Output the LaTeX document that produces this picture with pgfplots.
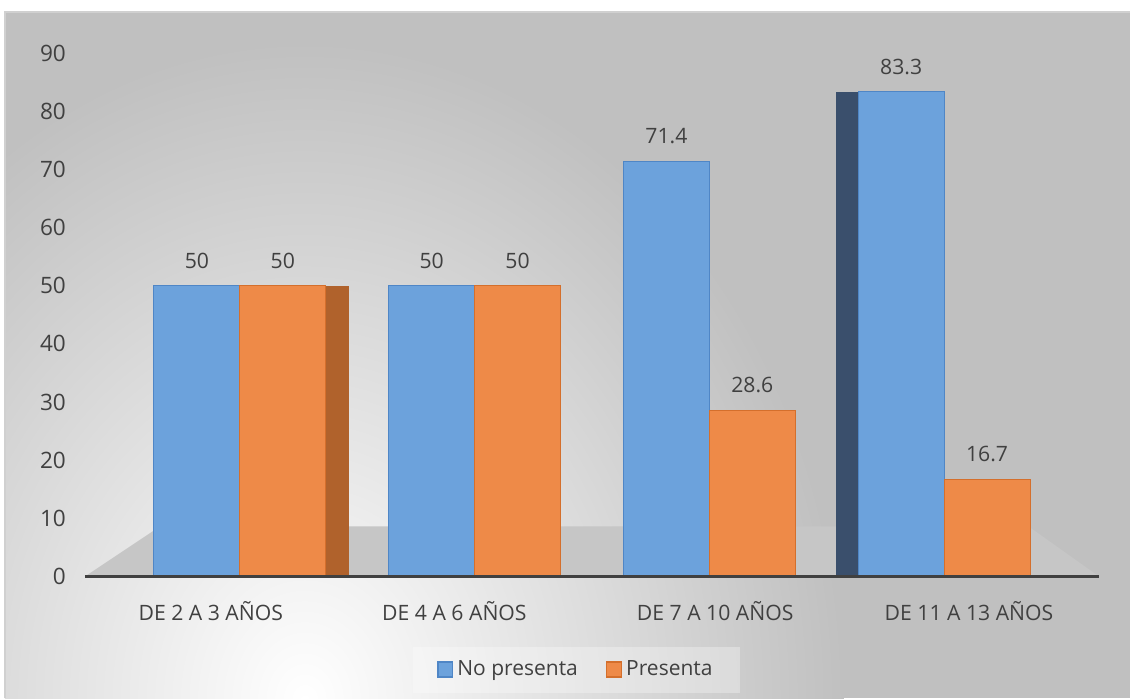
\documentclass[border=0pt]{standalone}
\usepackage{pgfplots}
\pgfplotsset{compat=1.18}
\usepackage{fontspec}
\setmainfont{Open Sans}
\definecolor{txt}{HTML}{404040}
\definecolor{bgGray}{HTML}{C0C0C0}
\definecolor{frameGray}{HTML}{D0D0D0}
\definecolor{barBlue}{HTML}{6CA2DC}
\definecolor{edgeBlue}{HTML}{4F86C6}
\definecolor{sideBlue}{HTML}{3A4F6C}
\definecolor{barOrange}{HTML}{EE8A48}
\definecolor{edgeOrange}{HTML}{D46F2C}
\definecolor{sideOrange}{HTML}{B0622C}
\definecolor{floorGray}{HTML}{C6C6C6}

\begin{document}
\begin{tikzpicture}
% page area and chart frame (origin = lower-left corner of the plot area)
\fill[white] (-42.5pt,-61pt) rectangle (523pt,288.5pt);
\begin{scope}
  \clip (-40pt,-61pt) rectangle (523pt,282.5pt);
  \fill[bgGray] (-40pt,-61pt) rectangle (523pt,282.5pt);
  \shade[inner color=white, outer color=bgGray] (110pt,-62pt) ellipse (270pt and 330pt);
\end{scope}
\draw[frameGray, line width=1pt] (-40pt,-61pt) -- (-40pt,282.5pt) -- (523pt,282.5pt);

\begin{axis}[
  at={(0,0)}, anchor=south west,
  scale only axis,
  width=507.5pt, height=262pt,
  ybar=0pt, bar width=43pt,
  xmin=-0.66, xmax=3.66,
  ymin=0, ymax=90,
  ytick={0,10,...,90},
  xtick={-0.124,0.914,2.025,3.106},
  xticklabels={DE 2 A 3 AÑOS, DE 4 A 6 AÑOS, DE 7 A 10 AÑOS, DE 11 A 13 AÑOS},
  major tick length=0pt,
  axis line style={draw=none},
  tick label style={font=\fontsize{10.6pt}{12pt}\selectfont, text=txt},
  yticklabel style={xshift=-6pt, font=\fontsize{11.3pt}{13pt}\selectfont},
  xticklabel style={yshift=-9pt},
  /pgf/number format/assume math mode=true,
  legend style={at={(0.485,-0.178)}, anchor=center, legend columns=2,
    draw=none, fill=white, fill opacity=0.3, text opacity=1,
    font=\fontsize{10.5pt}{12pt}\selectfont, text=txt,
    inner xsep=12pt, inner ysep=5pt,
    /tikz/every even column/.append style={column sep=12pt}},
  legend image code/.code={\draw[#1, fill opacity=1, line width=0.8pt] (0pt,-3.7pt) rectangle (7.4pt,3.7pt);},
  clip=false,
]
% floor under the bars
\fill[floorGray] (axis cs:-0.66,0) -- (axis cs:3.66,0) -- (axis cs:3.36,8.6) -- (axis cs:-0.34,8.6) -- cycle;

% shaded side faces of the bars seen at an angle
\addplot[forget plot, fill=sideOrange, draw=none, bar width=11.5pt, bar shift=48.7pt] coordinates {(0,50)};
\addplot[forget plot, fill=sideBlue, draw=none, bar width=11pt, bar shift=-48.5pt] coordinates {(3,83.3)};

\addplot[fill=barBlue, draw=edgeBlue, line width=0.5pt,
  nodes near coords, every node near coord/.append style={font=\fontsize{10.6pt}{12pt}\selectfont, text=txt, yshift=5pt}]
  coordinates {(0,50) (1,50) (2,71.4) (3,83.3)};
\addplot[fill=barOrange, draw=edgeOrange, line width=0.5pt,
  nodes near coords, every node near coord/.append style={font=\fontsize{10.6pt}{12pt}\selectfont, text=txt, yshift=5pt}]
  coordinates {(0,50) (1,50) (2,28.6) (3,16.7)};
\legend{No presenta, Presenta}

% category axis line
\draw[txt, line width=1.5pt] (rel axis cs:0,0) -- (rel axis cs:1,0);
\end{axis}
\end{tikzpicture}
\end{document}
